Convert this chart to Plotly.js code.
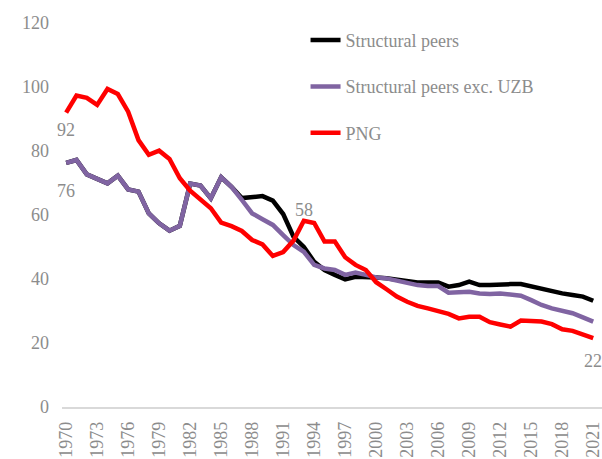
<!DOCTYPE html>
<html>
<head>
<meta charset="utf-8">
<script src="https://cdn.plot.ly/plotly-3.0.1.min.js"></script>
<style>html,body{margin:0;padding:0;background:#fff;}#chart{width:602px;height:459px;}</style>
</head>
<body>
<div id="chart"></div>
<script>
const years = [1970,1971,1972,1973,1974,1975,1976,1977,1978,1979,1980,1981,1982,1983,1984,1985,1986,1987,1988,1989,1990,1991,1992,1993,1994,1995,1996,1997,1998,1999,2000,2001,2002,2003,2004,2005,2006,2007,2008,2009,2010,2011,2012,2013,2014,2015,2016,2017,2018,2019,2020,2021];

const structuralPeers = [76.3,77.2,72.7,71.3,69.9,72.3,68,67.3,60.5,57.4,55.1,56.6,69.8,69.2,65.2,71.8,68.8,65.3,65.7,65.9,64.5,60.3,53.2,50,45.4,42.8,41.3,39.9,40.7,40.7,40.5,40.2,39.7,39.2,38.9,38.9,38.9,37.6,38.1,39.2,38.1,38.1,38.4,38.4,38.4,37.6,36.8,36,35.5,35,34.5,33.2];

const peersExcUZB = [76.3,77.2,72.7,71.3,69.9,72.3,68,67.3,60.5,57.4,55.1,56.6,69.8,69.2,65.2,71.8,68.8,64.7,60.5,58.7,56.9,53.7,50.6,48.5,44.4,43.3,42.8,41.3,42,41.3,40.5,40.2,39.5,38.6,38.1,37.8,37.8,35.7,35.8,36,35.5,35.3,35.5,35,34.8,33.4,31.9,30.8,30,29.3,28,26.7];

const png = [92,97.3,96.6,94.4,99.4,97.8,92.3,83.4,78.8,80.1,77.5,71.5,67.6,64.7,62.1,57.6,56.5,55,52.2,50.8,47.2,48.4,52,58.2,57.5,51.7,51.7,46.8,44.4,42.8,39,36.8,34.5,32.9,31.6,30.8,30,29.1,27.7,28.2,28.2,26.5,25.8,25.1,27,27,26.7,25.9,24.3,23.8,22.7,21.5];

const seriesNames = ["Structural peers", "Structural peers exc. UZB", "PNG"];
const tickYears = [1970,1973,1976,1979,1982,1985,1988,1991,1994,1997,2000,2003,2006,2009,2012,2015,2018,2021];
const yTicks = [0,20,40,60,80,100,120];

// labelled points: [series, year, vertical offset]
const labelled = [["png",1970,-17],["peers",1970,-28],["png",1993,11],["png",2021,-23]];

const font = "'Liberation Serif', 'DejaVu Serif', serif";
const gray = "#8c8c8c";

const traces = [
  {x: years, y: structuralPeers, name: seriesNames[0], mode: "lines", legendgroup: "a",
   line: {color: "#000000", width: 4.5}},
  {x: years, y: peersExcUZB, name: seriesNames[1], mode: "lines", legendgroup: "b",
   line: {color: "#8064a2", width: 4.5}},
  {x: years, y: png, name: seriesNames[2], mode: "lines", legendgroup: "c",
   line: {color: "#ff0000", width: 4.5}}
];

const seriesMap = {png: png, peers: peersExcUZB};
const annotations = labelled.map(([s, yr, shift]) => {
  const v = seriesMap[s][years.indexOf(yr)];
  return {x: yr, y: v, xref: "x", yref: "y", text: String(Math.round(v)), showarrow: false,
          yshift: shift, font: {family: font, size: 18, color: gray}};
});

const layout = {
  width: 602, height: 459,
  margin: {l: 62, r: 0, t: 23, b: 52},
  paper_bgcolor: "#ffffff", plot_bgcolor: "#ffffff",
  font: {family: font, size: 18, color: gray},
  xaxis: {range: [1969.6, 2021.85], tickmode: "array", tickvals: tickYears, ticktext: tickYears.map(String),
          tickangle: -90, showgrid: false, zeroline: false, showline: true, linecolor: "#d9d9d9", linewidth: 1.5,
          ticks: "", ticklabelstandoff: 6, ticklabeloverflow: "allow",
          tickfont: {family: font, size: 18, color: gray}, fixedrange: true},
  yaxis: {range: [0, 120], tickmode: "array", tickvals: yTicks, showgrid: false, zeroline: false, showline: false,
          ticks: "", ticklabelstandoff: 12, tickfont: {family: font, size: 18, color: gray}, fixedrange: true},
  showlegend: true,
  legend: {x: 0.451, xanchor: "left", y: 1.003, yanchor: "top", traceorder: "grouped", tracegroupgap: 20,
           bgcolor: "rgba(0,0,0,0)", font: {family: font, size: 18, color: gray}},
  annotations: annotations
};

Plotly.newPlot("chart", traces, layout, {staticPlot: true, displayModeBar: false});
</script>
</body>
</html>
